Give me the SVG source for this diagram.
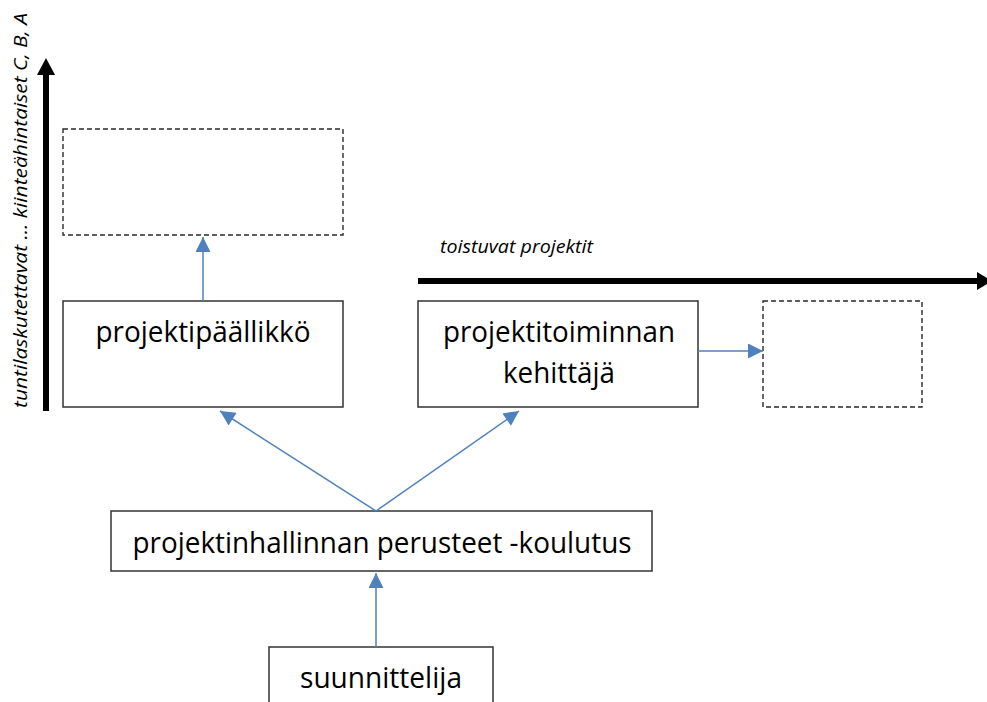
<svg xmlns="http://www.w3.org/2000/svg" width="987" height="702" viewBox="0 0 987 702">
  <style>
    .box { fill: #ffffff; stroke: #333333; stroke-width: 1.5; }
    .ghost { fill: none; stroke: #2a2a2a; stroke-width: 1.4; stroke-dasharray: 5 3; }
    .label { font-family: "Open Sans", "Liberation Sans", sans-serif; font-size: 29px; fill: #000000; text-anchor: middle; }
    .axis-label { font-family: "Open Sans", "Liberation Sans", sans-serif; font-style: italic; font-size: 19px; fill: #000000; }
    .link { stroke: #4F81BD; stroke-width: 1.5; fill: none; marker-end: url(#blue-head); }
    .axis { stroke: #000000; stroke-width: 6; fill: none; }
  </style>
  <defs>
    <marker id="blue-head" viewBox="0 0 10 10" refX="10" refY="5" markerUnits="userSpaceOnUse" markerWidth="16" markerHeight="15" orient="auto">
      <path d="M0,0 L10,5 L0,10 Z" fill="#4F81BD"/>
    </marker>
  </defs>

  <!-- value axis (vertical) -->
  <g id="axis-vertical">
    <line class="axis" x1="46" y1="411" x2="46" y2="72"/>
    <polygon points="46,58 55,75 37,75" fill="#000000"/>
    <text class="axis-label" transform="translate(27,408) rotate(-90)" textLength="395" lengthAdjust="spacingAndGlyphs">tuntilaskutettavat ... kiinteähintaiset C, B, A</text>
  </g>

  <!-- repetition axis (horizontal) -->
  <g id="axis-horizontal">
    <line class="axis" x1="418" y1="281" x2="980" y2="281"/>
    <polygon points="992,281 977,272 977,290" fill="#000000"/>
    <text class="axis-label" x="440" y="253" textLength="153" lengthAdjust="spacingAndGlyphs">toistuvat projektit</text>
  </g>

  <!-- nodes -->
  <g id="node-future-left">
    <rect class="ghost" x="63" y="129" width="280" height="106"/>
  </g>

  <g id="node-projektipaallikko">
    <rect class="box" x="63" y="301" width="280" height="106"/>
    <text class="label" x="203" y="342" textLength="215" lengthAdjust="spacingAndGlyphs">projektipäällikkö</text>
  </g>

  <g id="node-kehittaja">
    <rect class="box" x="418" y="301" width="280" height="106"/>
    <text class="label" x="559" y="342" textLength="232" lengthAdjust="spacingAndGlyphs">projektitoiminnan</text>
    <text class="label" x="559" y="383" textLength="112" lengthAdjust="spacingAndGlyphs">kehittäjä</text>
  </g>

  <g id="node-future-right">
    <rect class="ghost" x="763" y="301" width="159" height="106"/>
  </g>

  <g id="node-koulutus">
    <rect class="box" x="111" y="511" width="541" height="60"/>
    <text class="label" x="382" y="553" textLength="499" lengthAdjust="spacingAndGlyphs">projektinhallinnan perusteet -koulutus</text>
  </g>

  <g id="node-suunnittelija">
    <rect class="box" x="269" y="647" width="224" height="70"/>
    <text class="label" x="381" y="688" textLength="162" lengthAdjust="spacingAndGlyphs">suunnittelija</text>
  </g>

  <!-- connectors -->
  <g id="connectors">
    <line class="link" x1="376" y1="647" x2="376" y2="573"/>
    <line class="link" x1="376" y1="511" x2="220" y2="411"/>
    <line class="link" x1="376" y1="511" x2="519" y2="411"/>
    <line class="link" x1="203" y1="301" x2="203" y2="237"/>
    <line class="link" x1="698" y1="351" x2="763" y2="351"/>
  </g>
</svg>
